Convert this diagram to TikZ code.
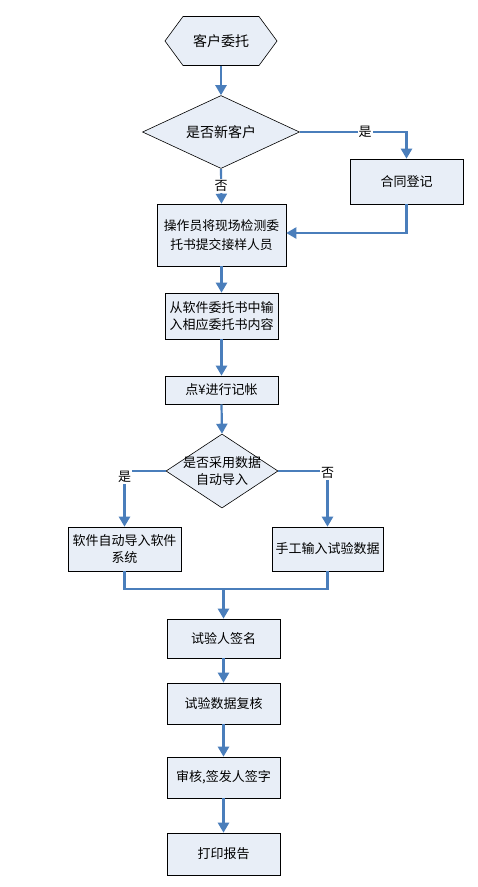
\documentclass[tikz,border=0pt]{standalone}
\usepackage{fontspec}
\setmainfont{Noto Sans CJK SC}
\usetikzlibrary{arrows.meta,shapes.geometric,positioning}
\definecolor{boxfill}{RGB}{232,238,247}
\definecolor{flow}{RGB}{74,126,187}
\begin{document}
\begin{tikzpicture}[x=1pt,y=1pt,
  font=\fontsize{13}{17}\selectfont,
  box/.style={draw=black,line width=0.6pt,fill=boxfill,rectangle,inner sep=0pt,align=center},
  dia/.style={draw=black,line width=0.6pt,fill=boxfill,diamond,inner sep=0pt},
  txt/.style={align=center,inner sep=0pt},
  conn/.style={draw=flow,line width=2.2pt},
  arr/.style={conn,-{Triangle[length=10pt,width=11pt]}},
  lbl/.style={fill=white,inner sep=1pt}]
\fill[white] (0,0) rectangle (477,-887);
\useasboundingbox (0,0) rectangle (477,-887);
% hexagon start
\node[txt,minimum width=112pt,minimum height=49pt] (start) at (221,-41) {};
\filldraw[draw=black,line width=0.6pt,fill=boxfill]
  (165,-41) -- (183,-16.5) -- (259,-16.5) -- (277,-41) -- (259,-65.5) -- (183,-65.5) -- cycle;
\node[txt,font=\fontsize{14}{17}\selectfont] (startt) at (start) {客户委托};
% decision 1
\node[dia,minimum width=157pt,minimum height=73pt] (d1) at (221,-132) {};
\node[txt,font=\fontsize{14}{17}\selectfont] (d1t) at (d1) {是否新客户};
% boxes
\node[box,minimum width=113pt,minimum height=45pt] (b1) at (406.5,-181.5) {合同登记};
\node[box,minimum width=129pt,minimum height=62pt,font=\fontsize{12.8}{19.5}\selectfont] (b2) at (221.5,-235) {操作员将现场检测委\\托书提交接样人员};
\node[box,minimum width=113pt,minimum height=46pt] (b3) at (221.5,-316) {从软件委托书中输\\入相应委托书内容};
\node[box,minimum width=113pt,minimum height=28pt] (b4) at (221.5,-390) {点¥进行记帐};
\node[dia,minimum width=112pt,minimum height=74pt] (d2) at (222,-471) {};
\node[txt,font=\fontsize{13}{16.5}\selectfont] (d2t) at (d2) {是否采用数据\\自动导入};
\node[box,minimum width=113pt,minimum height=44pt] (b5) at (124.5,-549) {软件自动导入软件\\系统};
\node[box,minimum width=111pt,minimum height=44pt] (b6) at (327.5,-549) {手工输入试验数据};
\node[box,minimum width=113pt,minimum height=39pt] (b7) at (223.5,-638.5) {试验人签名};
\node[box,minimum width=113pt,minimum height=41pt] (b8) at (223.5,-703.5) {试验数据复核};
\node[box,minimum width=113pt,minimum height=41pt] (b9) at (223.5,-777.5) {审核,签发人签字};
\node[box,minimum width=113pt,minimum height=42pt] (b10) at (223.5,-854) {打印报告};
% connectors
\draw[arr] (start.south) -- (d1.north);
\draw[arr] (d1.east) -| (b1.north);
\node[lbl] (yes1) at (365,-132) {是};
\draw[arr] (d1.south) -- (b2.north);
\node[lbl] (no1) at (221,-186) {否};
\coordinate (c1) at (406.5,-233);
\draw[arr] (b1.south) -- (c1) -- (b2.east |- c1);
\draw[arr] (b2.south) -- (b3.north);
\draw[arr] (b3.south) -- (b4.north);
\draw[arr] (b4.south) -- (d2.north);
\draw[arr] (d2.west) -| (b5.north);
\node[lbl] (yes2) at (124.5,-477) {是};
\draw[arr] (d2.east) -| (b6.north);
\node[lbl] (no2) at (327.5,-473) {否};
\coordinate (m) at (223.5,-589);
\draw[conn] (b5.south) |- (m) -| (b6.south);
\draw[arr] (m) -- (b7.north);
\draw[arr] (b7.south) -- (b8.north);
\draw[arr] (b8.south) -- (b9.north);
\draw[arr] (b9.south) -- (b10.north);
\end{tikzpicture}
\end{document}
